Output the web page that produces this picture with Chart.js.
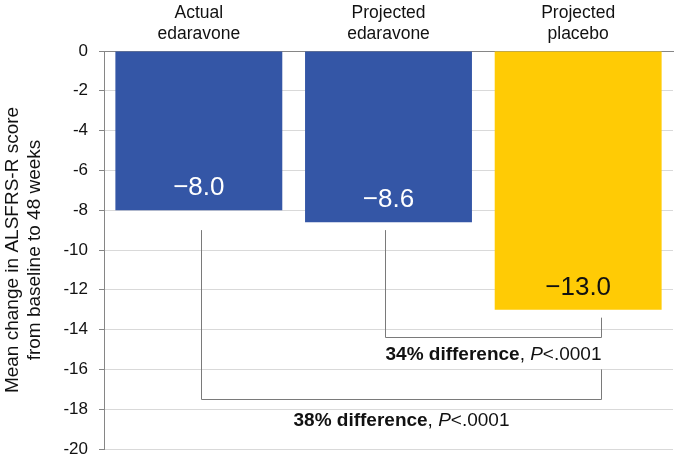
<!DOCTYPE html>
<html>
<head>
<meta charset="utf-8">
<script src="https://cdn.jsdelivr.net/npm/chart.js@4/dist/chart.umd.min.js"></script>
<style>
  html, body { margin: 0; padding: 0; background: #fff; }
  #wrap { width: 675px; height: 457px; }
</style>
</head>
<body>
<div id="wrap"><canvas id="alsChart"></canvas></div>
<script>
  // values
  const categories = [["Actual", "edaravone"], ["Projected", "edaravone"], ["Projected", "placebo"]];
  const meanChange = [-8.0, -8.6, -13.0];
  const barColors = ["#3456a6", "#3456a6", "#ffcb05"];
  const labelColors = ["#ffffff", "#ffffff", "#111111"];
  const yTicks = [0, -2, -4, -6, -8, -10, -12, -14, -16, -18, -20];

  // comparison brackets (in data units: x = category index, y = score)
  const brackets = [
    { x1: 0.01, x2: 2.12, drop1: -9.0, drop2: -16.0, y: -17.5, textY: -18.6, bold: "38% difference", rest: "<.0001", align: "center" },
    { x1: 0.98, x2: 2.12, drop1: -9.0, drop2: -13.4, y: -14.35, textY: -15.25, bold: "34% difference", rest: "<.0001", align: "right" },
  ];

  const FONT = "'Liberation Sans', Arial, sans-serif";

  const annotate = {
    id: "annotate",
    afterDatasetsDraw(chart) {
      const { ctx, scales: { x, y } } = chart;
      const meta = chart.getDatasetMeta(0);
      ctx.save();

      // value labels inside the bar ends
      ctx.font = "26px " + FONT;
      ctx.textAlign = "center";
      ctx.textBaseline = "alphabetic";
      meta.data.forEach((bar, i) => {
        ctx.fillStyle = labelColors[i];
        const txt = meanChange[i].toFixed(1).replace("-", "\u2212");
        ctx.fillText(txt, bar.x, bar.y - 15);
      });

      // brackets
      ctx.strokeStyle = "#7a7a7a";
      ctx.lineWidth = 1;
      brackets.forEach(b => {
        const px1 = Math.round(x.getPixelForValue(b.x1)) + 0.5;
        const px2 = Math.round(x.getPixelForValue(b.x2)) + 0.5;
        const py = Math.round(y.getPixelForValue(b.y)) + 0.5;
        ctx.beginPath();
        ctx.moveTo(px1, y.getPixelForValue(b.drop1));
        ctx.lineTo(px1, py);
        ctx.lineTo(px2, py);
        ctx.lineTo(px2, y.getPixelForValue(b.drop2));
        ctx.stroke();

        const fb = "bold 19px " + FONT;
        const fn = "19px " + FONT;
        const fi = "italic 19px " + FONT;
        ctx.font = fb; const w1 = ctx.measureText(b.bold).width;
        ctx.font = fn; const w2 = ctx.measureText(", ").width;
        ctx.font = fi; const w3 = ctx.measureText("P").width;
        ctx.font = fn; const w4 = ctx.measureText(b.rest).width;
        const total = w1 + w2 + w3 + w4;
        let sx = b.align === "right" ? px2 - total : (px1 + px2) / 2 - total / 2;
        const ty = y.getPixelForValue(b.textY);
        ctx.fillStyle = "#111";
        ctx.textAlign = "left";
        ctx.textBaseline = "middle";
        ctx.font = fb; ctx.fillText(b.bold, sx, ty); sx += w1;
        ctx.font = fn; ctx.fillText(", ", sx, ty); sx += w2;
        ctx.font = fi; ctx.fillText("P", sx, ty); sx += w3;
        ctx.font = fn; ctx.fillText(b.rest, sx, ty);
      });
      ctx.restore();
    }
  };

  new Chart(document.getElementById("alsChart"), {
    type: "bar",
    data: {
      labels: categories,
      datasets: [{
        data: meanChange,
        backgroundColor: barColors,
        borderWidth: 0,
        barPercentage: 0.88,
        categoryPercentage: 1.0,
      }],
    },
    options: {
      responsive: true,
      maintainAspectRatio: false,
      animation: false,
      layout: { padding: { left: 0, top: 0, right: 2, bottom: 8 } },
      plugins: {
        legend: { display: false },
        tooltip: { enabled: false },
      },
      scales: {
        x: {
          position: "top",
          afterFit(scale) { scale.height = 51; scale.paddingLeft = 0; scale.paddingRight = 0; },
          grid: { display: false, drawTicks: false },
          border: { display: true, color: "#868686", width: 1 },
          ticks: { color: "#111", font: { family: FONT, size: 17.5 }, padding: 6, maxRotation: 0 },
        },
        y: {
          min: -20,
          max: 0,
          afterFit(scale) { scale.width = 104; scale.paddingTop = 0; scale.paddingBottom = 0; },
          afterBuildTicks(scale) { scale.ticks = yTicks.map(v => ({ value: v })); },
          grid: { color: "#d9d9d9", tickColor: "#868686", tickLength: 5 },
          border: { display: true, color: "#868686", width: 1 },
          ticks: { color: "#111", font: { family: FONT, size: 17 }, padding: 11, callback: v => String(v) },
          title: {
            display: true,
            text: ["Mean change in ALSFRS-R score", "from baseline to 48 weeks"],
            color: "#111",
            font: { family: FONT, size: 19, lineHeight: 1.2 },
            padding: { top: 1, bottom: 0 },
          },
        },
      },
    },
    plugins: [annotate],
  });
</script>
</body>
</html>
